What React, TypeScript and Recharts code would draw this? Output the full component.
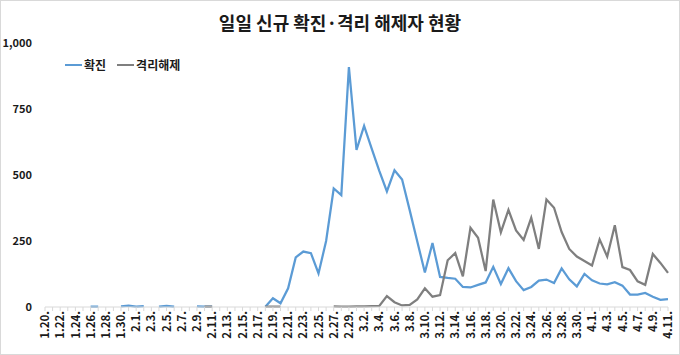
import React from "react";
import { LineChart, Line, XAxis, YAxis } from "recharts";

const categories: string[] = [
  "1.20.", "1.21.", "1.22.", "1.23.", "1.24.", "1.25.", "1.26.", "1.27.", "1.28.", "1.29.", "1.30.", "1.31.",
  "2.1.", "2.2.", "2.3.", "2.4.", "2.5.", "2.6.", "2.7.", "2.8.", "2.9.", "2.10.", "2.11.", "2.12.", "2.13.",
  "2.14.", "2.15.", "2.16.", "2.17.", "2.18.", "2.19.", "2.20.", "2.21.", "2.22.", "2.23.", "2.24.", "2.25.",
  "2.26.", "2.27.", "2.28.", "2.29.",
  "3.1.", "3.2.", "3.3.", "3.4.", "3.5.", "3.6.", "3.7.", "3.8.", "3.9.", "3.10.", "3.11.", "3.12.", "3.13.",
  "3.14.", "3.15.", "3.16.", "3.17.", "3.18.", "3.19.", "3.20.", "3.21.", "3.22.", "3.23.", "3.24.", "3.25.",
  "3.26.", "3.27.", "3.28.", "3.29.", "3.30.", "3.31.",
  "4.1.", "4.2.", "4.3.", "4.4.", "4.5.", "4.6.", "4.7.", "4.8.", "4.9.", "4.10.", "4.11.",
];

// 확진 (daily new confirmed) — blank days are null
const confirmed: (number | null)[] = [
  1, null, null, null, 1, null, 1, 1, null, null, 2, 5,
  1, 3, null, 1, 4, 1, null, null, 2, 1, 1, null, null,
  null, null, null, null, 1, 33, 14, 71, 188, 210, 204, 127,
  250, 449, 424, 909,
  595, 686, 600, 516, 438, 518, 483, 367, 248, 131, 242, 114, 110,
  107, 76, 74, 84, 93, 152, 87, 147, 98, 64, 76, 100,
  104, 91, 146, 105, 78, 125,
  101, 89, 86, 94, 81, 47, 47, 53, 39, 27, 30,
];

// 격리해제 (daily released from quarantine)
const released: (number | null)[] = [
  null, null, null, null, null, null, null, null, null, null, null, null,
  null, null, null, null, null, null, null, null, null, 1, 1, null, null,
  null, null, null, null, 1, 1, 1, null, null, null, null, null,
  null, 2, 1, 1,
  2, 2, 3, 4, 41, 18, 6, 8, 29, 71, 39, 45, 177,
  204, 116, 300, 262, 136, 407, 283, 368, 290, 254, 338, 220,
  407, 376, 284, 220, 191, 174,
  157, 256, 191, 310, 151, 140, 97, 84, 201, 167, 129,
];

const yTicks: number[] = [0, 250, 500, 750, 1000];

const seriesNames = ["확진", "격리해제"];

const data = categories.map((c, i) => ({
  date: c,
  confirmed: confirmed[i],
  released: released[i],
}));

const FONT = "'Noto Sans CJK KR', 'Noto Sans', sans-serif";
const BLUE = "#5B9BD5";
const GRAY = "#7F7F7F";

const XTick = (props: any) => {
  const { x, y, payload, index } = props;
  if (index % 2 !== 0) return <g />;
  return (
    <text
      x={x}
      y={y}
      transform={`rotate(-90, ${x}, ${y})`}
      textAnchor="end"
      dy="0.36em"
      fontFamily={FONT}
      fontSize={11.5}
      fontWeight={600}
      fill="#1a1a1a"
    >
      {payload.value}
    </text>
  );
};

export default function App() {
  return (
    <div
      style={{
        position: "absolute",
        left: 0,
        top: 0,
        width: 680,
        height: 355,
        boxSizing: "border-box",
        border: "1px solid #d9d9d9",
        background: "#fff",
      }}
    >
      <div
        style={{
          position: "absolute",
          left: 0,
          top: 10,
          width: 678,
          textAlign: "center",
          fontFamily: FONT,
          fontSize: 18,
          fontWeight: 700,
          color: "#1a1a1a",
          lineHeight: "22px",
        }}
      >
        일일 신규 확진·격리 해제자 현황
      </div>
      <div
        style={{
          position: "absolute",
          left: 64,
          top: 56,
          display: "flex",
          alignItems: "center",
          fontFamily: FONT,
          fontSize: 12,
          fontWeight: 600,
          color: "#1a1a1a",
          lineHeight: "16px",
          zIndex: 2,
        }}
      >
        <span style={{ display: "inline-block", width: 17, height: 2, background: BLUE, marginRight: 2 }} />
        <span style={{ marginRight: 11 }}>{seriesNames[0]}</span>
        <span style={{ display: "inline-block", width: 17, height: 2, background: GRAY, marginRight: 2 }} />
        <span>{seriesNames[1]}</span>
      </div>
      <LineChart
        width={678}
        height={353}
        data={data}
        margin={{ top: 42, right: 11, bottom: 2, left: 4 }}
      >
        <XAxis
          dataKey="date"
          interval={0}
          tick={<XTick />}
          tickSize={4}
          tickMargin={0}
          axisLine={{ stroke: "#d9d9d9" }}
          tickLine={{ stroke: "#d9d9d9" }}
          height={45}
        />
        <YAxis
          domain={[0, 1000]}
          ticks={yTicks}
          axisLine={false}
          tickLine={false}
          tickSize={0}
          tickMargin={13}
          width={40}
          tickFormatter={(v: number) => v.toLocaleString("en-US")}
          tick={{ fontFamily: FONT, fontSize: 11, fontWeight: 600, fill: "#1a1a1a" }}
        />
        <Line
          type="linear"
          dataKey="confirmed"
          name={seriesNames[0]}
          stroke={BLUE}
          strokeWidth={2.25}
          dot={false}
          activeDot={false}
          isAnimationActive={false}
        />
        <Line
          type="linear"
          dataKey="released"
          name={seriesNames[1]}
          stroke={GRAY}
          strokeWidth={2.25}
          dot={false}
          activeDot={false}
          isAnimationActive={false}
        />
      </LineChart>
    </div>
  );
}
